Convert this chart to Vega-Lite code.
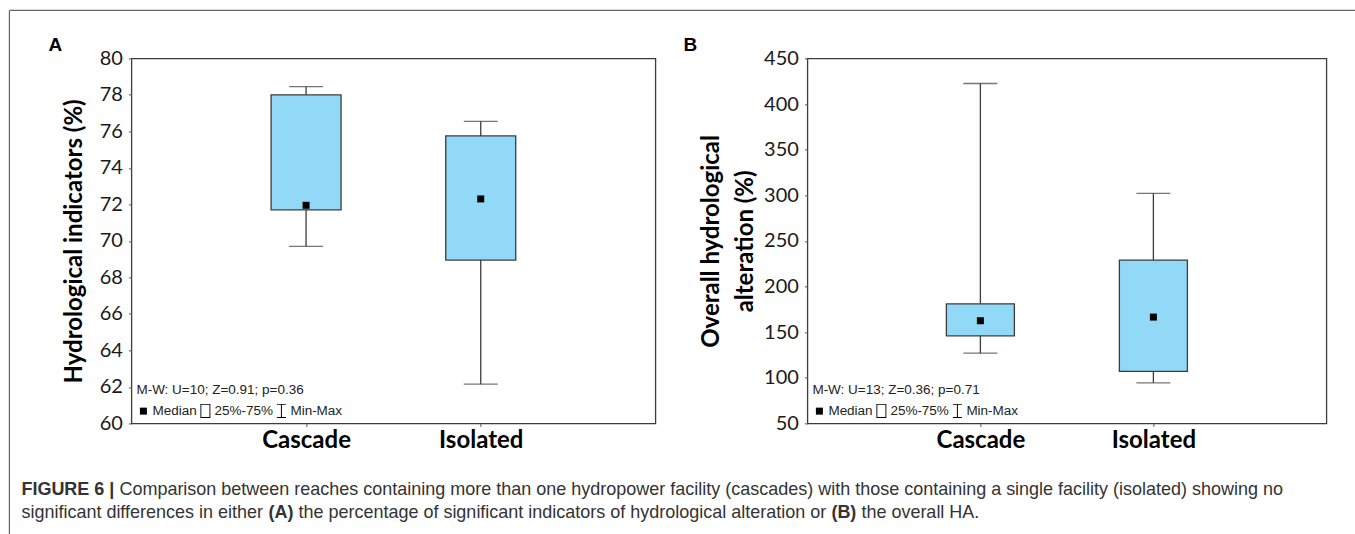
{
  "$schema": "https://vega.github.io/schema/vega-lite/v6.json",
  "padding": {"left": 7.4, "top": 8.4, "right": 0, "bottom": 0},
  "background": "white",
  "datasets": {
    "indicators": [
      {"reach": "Cascade", "min": 69.7, "q1": 71.7, "median": 71.95, "q3": 78.0, "max": 78.45},
      {"reach": "Isolated", "min": 62.15, "q1": 68.95, "median": 72.3, "q3": 75.75, "max": 76.55}
    ],
    "overall": [
      {"reach": "Cascade", "min": 127, "q1": 146, "median": 162.5, "q3": 181, "max": 422.5},
      {"reach": "Isolated", "min": 94.5, "q1": 107, "median": 166.5, "q3": 229, "max": 302}
    ]
  },
  "spacing": 152,
  "bounds": "flush",
  "resolve": {"scale": {"shape": "independent"}, "legend": {"shape": "independent"}},
  "hconcat": [
    {
      "width": 524,
      "height": 365,
      "resolve": {"scale": {"x": "independent"}, "axis": {"x": "independent"}},
      "layer": [
        {
          "data": {"name": "indicators"},
          "encoding": {
            "x": {"field": "reach", "type": "nominal", "sort": ["Cascade", "Isolated"], "scale": {"type": "point", "padding": 1},
                  "axis": {"title": null, "labelAngle": 0, "labelFont": "Lato", "labelFontSize": 24, "labelFontWeight": "bold", "labelColor": "black", "labelPadding": 2, "tickSize": 3,
                           "encode": {"labels": {"update": {"dx": {"value": 9}}}}}}
          },
          "layer": [
            {
              "mark": {"type": "rule", "color": "#3c3c3c", "strokeWidth": 1.3},
              "encoding": {
                "y": {"field": "min", "type": "quantitative", "scale": {"domain": [60, 80], "zero": false, "nice": false},
                      "axis": {"values": [60, 62, 64, 66, 68, 70, 72, 74, 76, 78, 80], "tickCount": 11, "labelOverlap": false, "title": "Hydrological indicators (%)", "titleFont": "Lato", "titleFontSize": 24, "titleFontWeight": "bold", "titleColor": "black", "titlePadding": 13, "labelFont": "Lato", "labelFontSize": 20, "labelColor": "#1a1a1a", "labelPadding": 6, "tickSize": 3}},
                "y2": {"field": "max"}
              }
            },
            {"mark": {"type": "tick", "color": "#3c3c3c", "thickness": 1.3, "size": 34}, "encoding": {"y": {"field": "min", "type": "quantitative"}}},
            {"mark": {"type": "tick", "color": "#3c3c3c", "thickness": 1.3, "size": 34}, "encoding": {"y": {"field": "max", "type": "quantitative"}}},
            {
              "mark": {"type": "bar", "size": 70, "fill": "#92d9f7", "stroke": "#3c3c3c", "strokeWidth": 1.3},
              "encoding": {"y": {"field": "q1", "type": "quantitative"}, "y2": {"field": "q3"}}
            },
            {
              "mark": {"type": "point", "filled": true, "color": "black", "opacity": 1, "size": 196},
              "encoding": {
                "y": {"field": "median", "type": "quantitative"},
                "shape": {
                  "datum": "Median", "type": "nominal",
                  "scale": {"domain": ["Median", "25%-75%", "Min-Max"], "range": ["M-0.5,-0.5H0.5V0.5H-0.5Z", "M-0.71,-1H0.71V1H-0.71ZM-0.58,-0.87V0.87H0.58V-0.87Z", "M-0.64,-1H0.64V-0.87H0.07V0.87H0.64V1H-0.64V0.87H-0.07V-0.87H-0.64Z"]},
                  "legend": {
                    "title": "M-W: U=10; Z=0.91; p=0.36", "titleLimit": 0, "orient": "bottom-left", "direction": "horizontal", "offset": 5,
                    "symbolSize": 196, "symbolStrokeWidth": 0, "symbolFillColor": "black", "symbolOpacity": 1,
                    "titleFont": "Liberation Sans", "titleFontSize": 13.5, "titleFontWeight": "normal", "titleColor": "#222", "titlePadding": 7,
                    "labelFont": "Liberation Sans", "labelFontSize": 13.5, "labelColor": "#222", "labelOffset": 2, "columnPadding": 1
                  }
                }
              }
            }
          ]
        },
        {
          "data": {"values": [{}]},
          "encoding": {
            "x": {"datum": 130, "type": "quantitative", "scale": {"domain": [130, 654], "zero": false, "nice": false}, "axis": null}
          },
          "layer": [
            {"mark": {"type": "rule", "color": "#666", "strokeWidth": 1.2},
             "encoding": {"x": {"datum": 8, "type": "quantitative"}, "y": {"datum": 82.63, "type": "quantitative"}, "y2": {"datum": 53.863}}},
            {"mark": {"type": "rule", "color": "#666", "strokeWidth": 1.2},
             "encoding": {"x": {"datum": 8, "type": "quantitative"}, "x2": {"datum": 1355}, "y": {"datum": 82.63, "type": "quantitative"}}},
            {"mark": {"type": "text", "text": "A", "align": "left", "baseline": "alphabetic", "font": "Liberation Sans", "fontSize": 19, "fontWeight": "bold", "color": "black"},
             "encoding": {"x": {"datum": 47, "type": "quantitative"}, "y": {"datum": 80.384, "type": "quantitative"}}},
            {"mark": {"type": "text", "text": "B", "align": "left", "baseline": "alphabetic", "font": "Liberation Sans", "fontSize": 19, "fontWeight": "bold", "color": "black"},
             "encoding": {"x": {"datum": 682, "type": "quantitative"}, "y": {"datum": 80.384, "type": "quantitative"}}},
            {"mark": {"type": "text", "text": "FIGURE 6 |", "align": "left", "baseline": "alphabetic", "font": "Liberation Sans", "fontSize": 18, "fontWeight": "bold", "color": "#333"},
             "encoding": {"x": {"datum": 20, "type": "quantitative"}, "y": {"datum": 56.055, "type": "quantitative"}}},
            {"mark": {"type": "text", "text": "Comparison between reaches containing more than one hydropower facility (cascades) with those containing a single facility (isolated) showing no", "align": "left", "baseline": "alphabetic", "font": "Liberation Sans", "fontSize": 18, "color": "#333"},
             "encoding": {"x": {"datum": 118, "type": "quantitative"}, "y": {"datum": 56.055, "type": "quantitative"}}},
            {"mark": {"type": "text", "text": "significant differences in either", "align": "left", "baseline": "alphabetic", "font": "Liberation Sans", "fontSize": 18, "color": "#333"},
             "encoding": {"x": {"datum": 20, "type": "quantitative"}, "y": {"datum": 54.795, "type": "quantitative"}}},
            {"mark": {"type": "text", "text": "(A)", "align": "left", "baseline": "alphabetic", "font": "Liberation Sans", "fontSize": 18, "fontWeight": "bold", "color": "#333"},
             "encoding": {"x": {"datum": 267, "type": "quantitative"}, "y": {"datum": 54.795, "type": "quantitative"}}},
            {"mark": {"type": "text", "text": "the percentage of significant indicators of hydrological alteration or", "align": "left", "baseline": "alphabetic", "font": "Liberation Sans", "fontSize": 18, "color": "#333"},
             "encoding": {"x": {"datum": 297, "type": "quantitative"}, "y": {"datum": 54.795, "type": "quantitative"}}},
            {"mark": {"type": "text", "text": "(B)", "align": "left", "baseline": "alphabetic", "font": "Liberation Sans", "fontSize": 18, "fontWeight": "bold", "color": "#333"},
             "encoding": {"x": {"datum": 830, "type": "quantitative"}, "y": {"datum": 54.795, "type": "quantitative"}}},
            {"mark": {"type": "text", "text": "the overall HA.", "align": "left", "baseline": "alphabetic", "font": "Liberation Sans", "fontSize": 18, "color": "#333"},
             "encoding": {"x": {"datum": 860, "type": "quantitative"}, "y": {"datum": 54.795, "type": "quantitative"}}}
          ]
        }
      ]
    },
    {
      "width": 519,
      "height": 365,
      "data": {"name": "overall"},
      "encoding": {
        "x": {"field": "reach", "type": "nominal", "sort": ["Cascade", "Isolated"], "scale": {"type": "point", "padding": 1},
              "axis": {"title": null, "labelAngle": 0, "labelFont": "Lato", "labelFontSize": 24, "labelFontWeight": "bold", "labelColor": "black", "labelPadding": 2, "tickSize": 3,
                       "encode": {"labels": {"update": {"dx": {"value": 9}}}}}}
      },
      "layer": [
        {
          "mark": {"type": "rule", "color": "#3c3c3c", "strokeWidth": 1.3},
          "encoding": {
            "y": {"field": "min", "type": "quantitative", "scale": {"domain": [50, 450], "zero": false, "nice": false},
                  "axis": {"values": [50, 100, 150, 200, 250, 300, 350, 400, 450], "labelOverlap": false, "title": ["Overall hydrological", "alteration (%)"], "titleLineHeight": 34, "titleFont": "Lato", "titleFontSize": 24, "titleFontWeight": "bold", "titleColor": "black", "titlePadding": 6, "labelFont": "Lato", "labelFontSize": 20, "labelColor": "#1a1a1a", "labelPadding": 6, "tickSize": 3}},
            "y2": {"field": "max"}
          }
        },
        {"mark": {"type": "tick", "color": "#3c3c3c", "thickness": 1.3, "size": 34}, "encoding": {"y": {"field": "min", "type": "quantitative"}}},
        {"mark": {"type": "tick", "color": "#3c3c3c", "thickness": 1.3, "size": 34}, "encoding": {"y": {"field": "max", "type": "quantitative"}}},
        {
          "mark": {"type": "bar", "size": 68, "fill": "#92d9f7", "stroke": "#3c3c3c", "strokeWidth": 1.3},
          "encoding": {"y": {"field": "q1", "type": "quantitative"}, "y2": {"field": "q3"}}
        },
        {
          "mark": {"type": "point", "filled": true, "color": "black", "opacity": 1, "size": 196},
          "encoding": {
            "y": {"field": "median", "type": "quantitative"},
            "shape": {
              "datum": "Median", "type": "nominal",
              "scale": {"domain": ["Median", "25%-75%", "Min-Max"], "range": ["M-0.5,-0.5H0.5V0.5H-0.5Z", "M-0.71,-1H0.71V1H-0.71ZM-0.58,-0.87V0.87H0.58V-0.87Z", "M-0.64,-1H0.64V-0.87H0.07V0.87H0.64V1H-0.64V0.87H-0.07V-0.87H-0.64Z"]},
              "legend": {
                "title": "M-W: U=13; Z=0.36; p=0.71", "titleLimit": 0, "orient": "bottom-left", "direction": "horizontal", "offset": 5,
                "symbolSize": 196, "symbolStrokeWidth": 0, "symbolFillColor": "black", "symbolOpacity": 1,
                "titleFont": "Liberation Sans", "titleFontSize": 13.5, "titleFontWeight": "normal", "titleColor": "#222", "titlePadding": 7,
                "labelFont": "Liberation Sans", "labelFontSize": 13.5, "labelColor": "#222", "labelOffset": 2, "columnPadding": 1
              }
            }
          }
        }
      ]
    }
  ],
  "config": {
    "view": {"stroke": "#3c3c3c", "strokeWidth": 1.3},
    "axis": {"grid": false, "domain": false, "tickColor": "#555"}
  }
}
